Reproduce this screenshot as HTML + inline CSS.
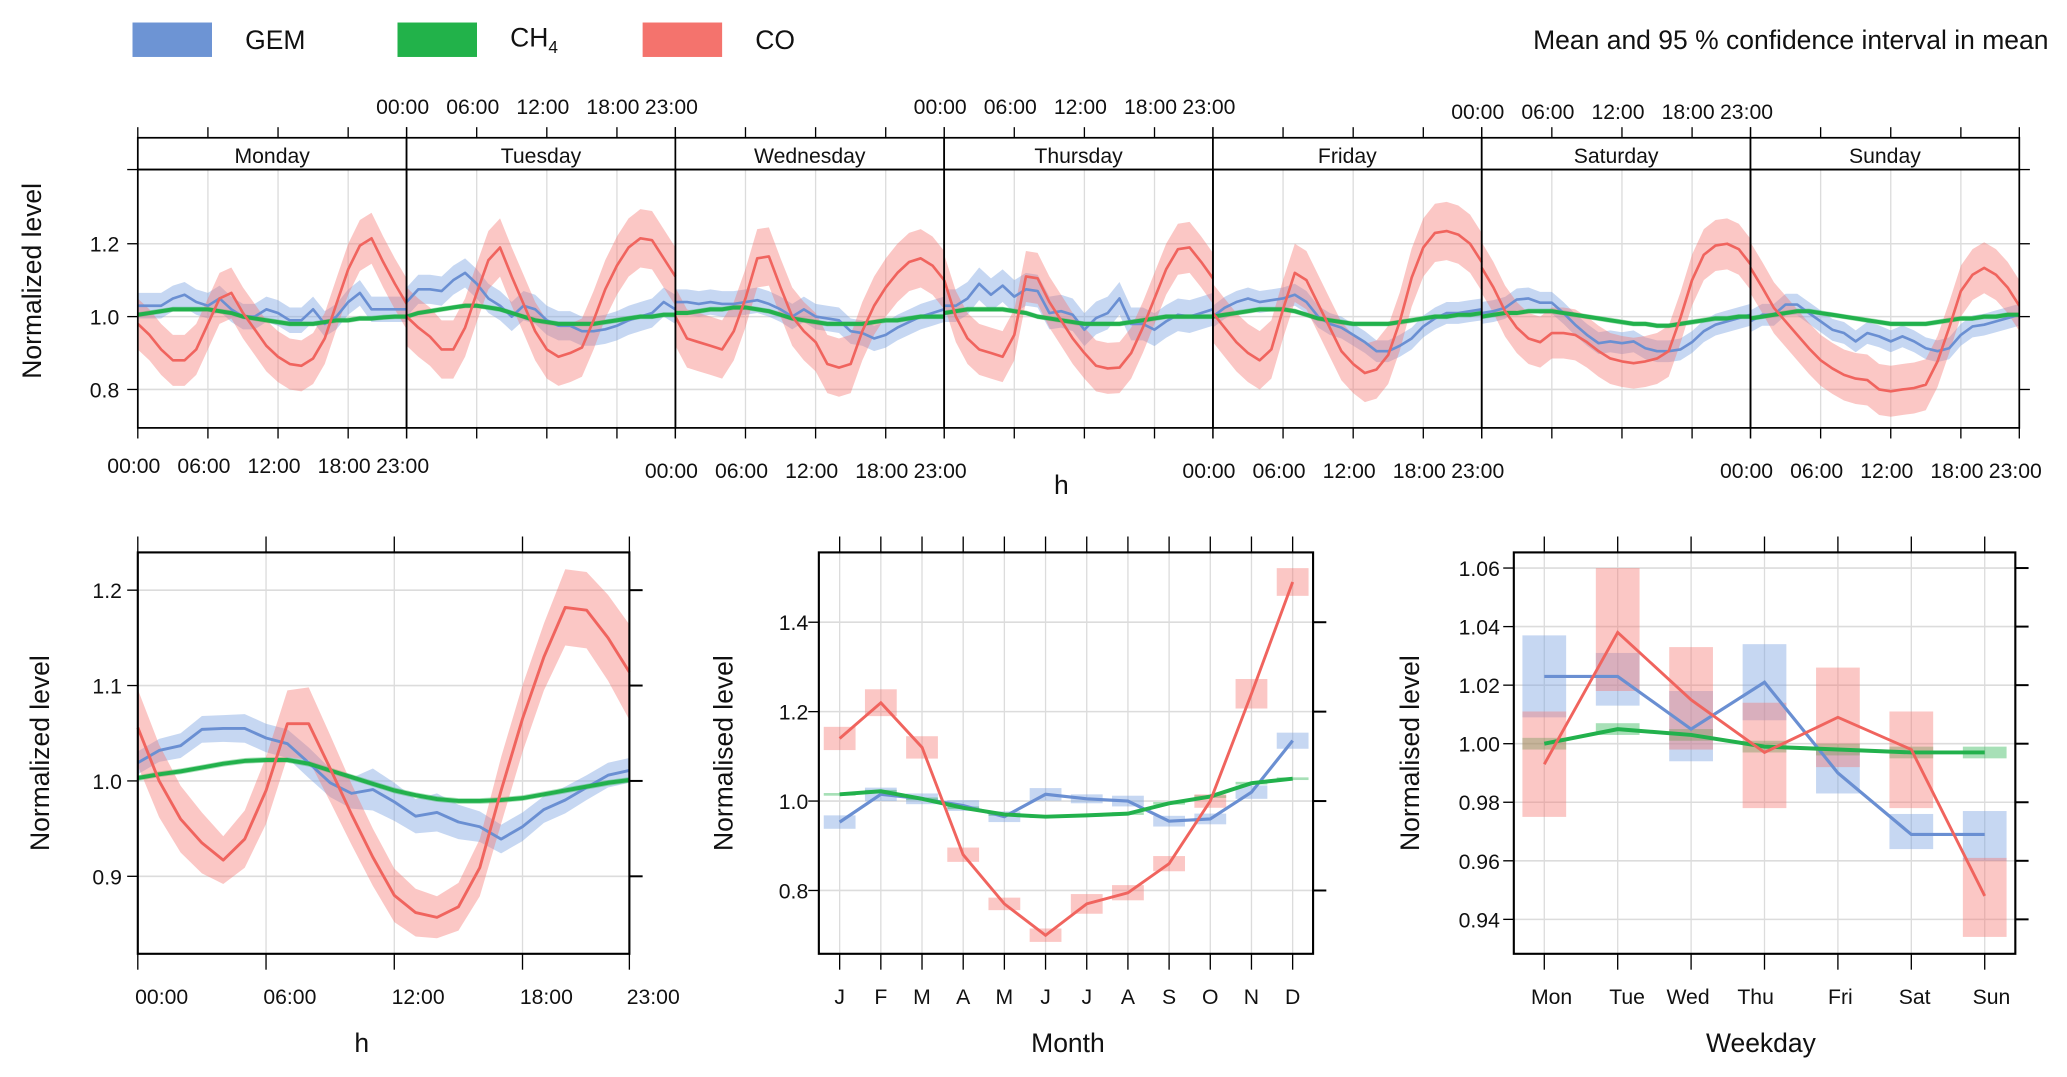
<!DOCTYPE html>
<html><head><meta charset="utf-8"><title>Normalized levels</title>
<style>
html,body{margin:0;padding:0;background:#fff;}
svg{display:block;font-family:"Liberation Sans",sans-serif;}
text{fill:#111;}
</style></head>
<body>
<svg id="chart" width="2067" height="1077" viewBox="0 0 1560 813" preserveAspectRatio="none">
  <g>
    <rect x="100" y="17" width="60" height="26" fill="#6d94d4"/>
    <text x="185" y="37" font-size="20">GEM</text>
    <rect x="300" y="17" width="60" height="26" fill="#22b24a"/>
    <text x="385" y="35" font-size="20">CH<tspan font-size="13" dy="5">4</tspan></text>
    <rect x="485" y="17" width="60" height="26" fill="#f4736d"/>
    <text x="570" y="37" font-size="20">CO</text>
    <text x="1546" y="37" font-size="20" text-anchor="end">Mean and 95 % confidence interval in mean</text>
  </g>
  <g id="topPanel"></g>
  <g id="hour"></g>
  <g id="month"></g>
  <g id="wday"></g>
</svg>
<script>
// ---------- data ----------
const days = ["Monday","Tuesday","Wednesday","Thursday","Friday","Saturday","Sunday"];
const hourTicks = [0,6,12,18,23];
const hourTickLabels = ["00:00","06:00","12:00","18:00","23:00"];
const coDay = [
 [0.98,0.95,0.91,0.88,0.88,0.91,0.98,1.05,1.065,1.01,0.965,0.92,0.89,0.87,0.865,0.885,0.94,1.035,1.13,1.195,1.215,1.15,1.09,1.035],
 [1.0,0.97,0.945,0.91,0.91,0.97,1.065,1.155,1.19,1.11,1.035,0.96,0.91,0.89,0.9,0.915,0.99,1.075,1.14,1.19,1.215,1.21,1.16,1.11],
 [1.0,0.94,0.93,0.92,0.91,0.96,1.05,1.16,1.165,1.08,1.0,0.96,0.93,0.87,0.86,0.87,0.96,1.03,1.08,1.12,1.15,1.16,1.14,1.1],
 [1.1,1.0,0.94,0.91,0.9,0.89,0.95,1.11,1.105,1.04,0.99,0.94,0.9,0.865,0.858,0.86,0.9,0.97,1.05,1.13,1.185,1.19,1.15,1.105],
 [1.01,0.97,0.93,0.9,0.88,0.91,1.02,1.12,1.1,1.035,0.97,0.905,0.87,0.845,0.855,0.895,0.987,1.107,1.19,1.23,1.235,1.225,1.2,1.15],
 [1.134,1.08,1.015,0.97,0.94,0.93,0.955,0.955,0.95,0.93,0.905,0.885,0.877,0.872,0.877,0.885,0.905,0.996,1.1,1.17,1.195,1.2,1.185,1.144],
 [1.134,1.08,1.024,0.987,0.95,0.913,0.88,0.858,0.84,0.83,0.826,0.8,0.795,0.8,0.804,0.813,0.877,0.97,1.07,1.115,1.134,1.115,1.08,1.03]
];
const gemDay = [
 [1.03,1.03,1.03,1.05,1.06,1.04,1.03,1.05,1.02,1.0,1.0,1.02,1.01,0.99,0.99,1.02,0.98,1.0,1.04,1.065,1.02,1.02,1.02,1.02],
 [1.04,1.075,1.075,1.07,1.1,1.12,1.09,1.05,1.03,1.0,1.03,1.02,0.99,0.975,0.975,0.96,0.96,0.965,0.975,0.99,1.0,1.01,1.04,1.02],
 [1.04,1.04,1.035,1.04,1.035,1.035,1.04,1.045,1.035,1.02,1.0,1.02,1.0,0.995,0.99,0.96,0.955,0.94,0.95,0.97,0.985,1.0,1.01,1.02],
 [1.03,1.03,1.05,1.09,1.06,1.085,1.055,1.075,1.07,1.01,1.015,1.005,0.964,0.996,1.01,1.05,0.98,0.98,0.964,0.987,1.005,1.0,1.01,1.02],
 [1.0,1.024,1.04,1.05,1.04,1.045,1.05,1.06,1.04,1.0,0.98,0.97,0.95,0.93,0.905,0.905,0.92,0.94,0.973,0.995,1.01,1.01,1.015,1.02],
 [1.01,1.015,1.024,1.047,1.05,1.038,1.038,1.01,0.978,0.95,0.927,0.932,0.927,0.932,0.913,0.905,0.905,0.91,0.93,0.96,0.978,0.987,0.996,1.005],
 [0.987,1.005,1.005,1.033,1.033,1.01,0.987,0.964,0.955,0.932,0.955,0.946,0.932,0.946,0.932,0.913,0.905,0.913,0.95,0.973,0.978,0.987,0.996,1.005]
];
const ch4Day = [
 [1.005,1.01,1.015,1.02,1.02,1.02,1.02,1.015,1.01,1.0,0.995,0.99,0.985,0.98,0.98,0.98,0.985,0.99,0.99,0.995,0.995,0.998,1.0,1.0],
 [1.0,1.01,1.015,1.02,1.025,1.03,1.03,1.025,1.02,1.01,1.0,0.99,0.985,0.98,0.98,0.98,0.98,0.985,0.99,0.995,1.0,1.0,1.005,1.005],
 [1.01,1.01,1.015,1.02,1.02,1.025,1.025,1.02,1.015,1.005,0.995,0.99,0.985,0.98,0.98,0.98,0.98,0.985,0.99,0.99,0.995,1.0,1.0,1.0],
 [1.01,1.015,1.02,1.02,1.02,1.02,1.015,1.01,1.0,0.995,0.99,0.985,0.98,0.98,0.98,0.98,0.985,0.99,0.995,1.0,1.0,1.0,1.0,1.0],
 [1.0,1.005,1.01,1.015,1.02,1.02,1.02,1.015,1.005,0.995,0.99,0.985,0.98,0.98,0.98,0.98,0.985,0.99,0.995,1.0,1.0,1.005,1.005,1.01],
 [1.0,1.005,1.01,1.01,1.015,1.015,1.015,1.01,1.005,1.0,0.995,0.99,0.985,0.98,0.98,0.975,0.975,0.98,0.985,0.99,0.995,0.995,1.0,1.0],
 [0.995,1.0,1.005,1.01,1.015,1.015,1.01,1.005,1.0,0.995,0.99,0.985,0.98,0.98,0.98,0.98,0.985,0.99,0.995,0.995,1.0,1.0,1.005,1.005]
];
const coDayCI = [0.07,0.08,0.08,0.07,0.08,0.07,0.07];
const gemDayCI = [0.035,0.04,0.035,0.045,0.03,0.03,0.03];
const ch4DayCI = [0.007,0.007,0.007,0.007,0.007,0.007,0.007];
const topYTicks = [0.8,1.0,1.2];
const topYTickLabels = ["0.8","1.0","1.2"];

const coHour = [1.056,1.0,0.96,0.935,0.917,0.939,0.99,1.06,1.06,1.013,0.965,0.92,0.88,0.862,0.857,0.868,0.909,0.99,1.065,1.13,1.182,1.179,1.15,1.114];
const gemHour = [1.019,1.032,1.037,1.054,1.055,1.055,1.045,1.039,1.019,0.998,0.987,0.991,0.978,0.963,0.967,0.957,0.952,0.939,0.952,0.97,0.98,0.993,1.006,1.011];
const ch4Hour = [1.003,1.007,1.01,1.014,1.018,1.021,1.022,1.022,1.018,1.011,1.004,0.997,0.99,0.985,0.981,0.979,0.979,0.98,0.982,0.986,0.99,0.994,0.998,1.001];
const coHourCI = [0.04,0.038,0.035,0.032,0.025,0.03,0.035,0.035,0.038,0.035,0.032,0.03,0.028,0.025,0.022,0.025,0.03,0.035,0.035,0.035,0.04,0.04,0.045,0.05];
const gemHourCI = [0.012,0.012,0.013,0.014,0.014,0.015,0.015,0.015,0.016,0.015,0.016,0.022,0.02,0.018,0.02,0.018,0.016,0.015,0.015,0.014,0.014,0.013,0.013,0.013];
const ch4HourCI = [0.003,0.003,0.003,0.003,0.003,0.003,0.003,0.003,0.003,0.003,0.003,0.003,0.003,0.003,0.003,0.003,0.003,0.003,0.003,0.003,0.003,0.003,0.003,0.003];
const hourYTicks = [0.9,1.0,1.1,1.2];
const hourYTickLabels = ["0.9","1.0","1.1","1.2"];

const months = ["J","F","M","A","M","J","J","A","S","O","N","D"];
const coMonth = [1.14,1.22,1.12,0.88,0.77,0.70,0.77,0.795,0.86,1.0,1.24,1.49];
const gemMonth = [0.953,1.015,1.005,0.99,0.965,1.015,1.005,1.0,0.955,0.96,1.02,1.135];
const ch4Month = [1.015,1.022,1.005,0.985,0.97,0.965,0.968,0.972,0.995,1.01,1.04,1.05];
const coMonthCI = [0.026,0.03,0.025,0.016,0.014,0.015,0.022,0.017,0.017,0.015,0.033,0.031];
const gemMonthCI = [0.015,0.015,0.012,0.012,0.012,0.014,0.01,0.012,0.012,0.012,0.015,0.018];
const ch4MonthCI = [0.003,0.003,0.003,0.003,0.003,0.003,0.003,0.003,0.003,0.003,0.003,0.003];
const monthYTicks = [0.8,1.0,1.2,1.4];
const monthYTickLabels = ["0.8","1.0","1.2","1.4"];

const wdays = ["Mon","Tue","Wed","Thu","Fri","Sat","Sun"];
const coW = [0.993,1.038,1.015,0.997,1.009,0.998,0.948];
const coWLo = [0.975,1.018,0.998,0.978,0.992,0.978,0.934];
const coWHi = [1.011,1.060,1.033,1.014,1.026,1.011,0.961];
const gemW = [1.023,1.023,1.005,1.021,0.99,0.969,0.969];
const gemWLo = [1.009,1.013,0.994,1.008,0.983,0.964,0.96];
const gemWHi = [1.037,1.031,1.018,1.034,0.998,0.976,0.977];
const ch4W = [1.0,1.005,1.003,0.999,0.998,0.997,0.997];
const ch4WLo = [0.998,1.003,1.001,0.997,0.996,0.995,0.995];
const ch4WHi = [1.002,1.007,1.005,1.001,1.0,0.999,0.999];
const wYTicks = [0.94,0.96,0.98,1.00,1.02,1.04,1.06];
const wYTickLabels = ["0.94","0.96","0.98","1.00","1.02","1.04","1.06"];

// ---------- helpers ----------
const NS = "http://www.w3.org/2000/svg";
const COL = {co:"#f0645e", coF:"rgba(244,115,109,0.40)", gem:"#6a8fd2", gemF:"rgba(120,160,225,0.42)", ch4:"#22b14c", ch4F:"rgba(34,177,76,0.40)"};
function mk(tag, attrs, parent){
  const e = document.createElementNS(NS, tag);
  for (const k in attrs) e.setAttribute(k, attrs[k]);
  parent.appendChild(e);
  return e;
}
function txt(parent, x, y, s, size, anchor){
  const t = mk("text", {x:x, y:y, "font-size":size, "text-anchor":anchor||"middle"}, parent);
  t.textContent = s;
  return t;
}
function linePath(xs, ys){ return xs.map((x,i)=>(i?"L":"M")+x.toFixed(1)+","+ys[i].toFixed(1)).join(""); }
function bandPath(xs, lo, hi){
  let d = xs.map((x,i)=>(i?"L":"M")+x.toFixed(1)+","+hi[i].toFixed(1)).join("");
  for (let i=xs.length-1;i>=0;i--) d += "L"+xs[i].toFixed(1)+","+lo[i].toFixed(1);
  return d+"Z";
}

// ---------- top panel ----------
const topG = document.getElementById("topPanel");
const TL=104, TR=1524, PW=(TR-TL)/7, STRIP_T=104, PLOT_T=128, PLOT_B=323;
const xTop = (d,h)=> TL + d*PW + h*PW/23;
const yTop = v => 239 - (v-1)*275;
const defs = mk("defs", {}, topG);
const cp = mk("clipPath", {id:"topclip"}, defs);
mk("rect", {x:TL, y:PLOT_T, width:TR-TL, height:PLOT_B-PLOT_T}, cp);
for (let d=0; d<7; d++){
  for (const h of [6,12,18]){
    const g = mk("line", {x1:xTop(d,h), x2:xTop(d,h), y1:PLOT_T, y2:PLOT_B, stroke:"#dcdcdc", "stroke-width":1}, topG);
    
    
  }
}
topYTicks.forEach((v,i)=>{
  const g = mk("line", {x1:TL, x2:TR, y1:yTop(v), y2:yTop(v), stroke:"#dcdcdc", "stroke-width":1.2}, topG);
  
  
  const t = txt(topG, 90, yTop(v)+6, topYTickLabels[i], 16, "end");
  
  
  const tk = mk("line", {x1:TL-8, x2:TL, y1:yTop(v), y2:yTop(v), stroke:"#000"}, topG);
  
  
  const tk2 = mk("line", {x1:TR, x2:TR+8, y1:yTop(v), y2:yTop(v), stroke:"#000"}, topG);
  
  
});
const tk14 = mk("line", {x1:TL-8, x2:TL, y1:PLOT_T, y2:PLOT_T, stroke:"#000"}, topG);


const tk14r = mk("line", {x1:TR, x2:TR+8, y1:PLOT_T, y2:PLOT_T, stroke:"#000"}, topG);


const series = mk("g", {"clip-path":"url(#topclip)"}, topG);


for (let d=0; d<7; d++){
  const xs = coDay[d].map((_,h)=>xTop(d,h));
  const sets = [
    [gemDay[d], gemDayCI[d], COL.gemF, COL.gem, "gem", 2],
    [ch4Day[d], ch4DayCI[d], COL.ch4F, COL.ch4, "ch4", 3],
    [coDay[d], coDayCI[d], COL.coF, COL.co, "co", 2]
  ];
  for (const [vals, ci, fc, lc, nm, w] of sets){
    const b = mk("path", {d:bandPath(xs, vals.map(v=>yTop(v-ci)), vals.map(v=>yTop(v+ci))), fill:fc, stroke:"none"}, series);
    
    
  }
  for (const [vals, ci, fc, lc, nm, w] of sets){
    const l = mk("path", {d:linePath(xs, vals.map(v=>yTop(v))), fill:"none", stroke:lc, "stroke-width":w, "stroke-linejoin":"round"}, series);
    
    
  }
}
for (let d=0; d<7; d++){
  const x0 = TL + d*PW;
  const s = mk("rect", {x:x0, y:STRIP_T, width:PW, height:PLOT_T-STRIP_T, fill:"#fff", stroke:"#000", "stroke-width":1.3}, topG);
  
  
  const st = txt(topG, x0+PW/2, STRIP_T+19, days[d], 16);
  
  
  const f = mk("rect", {x:x0, y:PLOT_T, width:PW, height:PLOT_B-PLOT_T, fill:"none", stroke:"#000", "stroke-width":1.3}, topG);
  
  
  hourTicks.forEach((h,i)=>{
    const a = mk("line", {x1:xTop(d,h), x2:xTop(d,h), y1:STRIP_T-8, y2:STRIP_T, stroke:"#000"}, topG);
    
    
    const b = mk("line", {x1:xTop(d,h), x2:xTop(d,h), y1:PLOT_B, y2:PLOT_B+8, stroke:"#000"}, topG);
    
    
    if (d%2===1){
      const yy = d===5 ? 90 : 86;
      const t = txt(topG, xTop(d,h)-3, yy, hourTickLabels[i], 16);
      
      
    } else {
      const yy = d===0 ? 357 : 361;
      const t = txt(topG, xTop(d,h)-3, yy, hourTickLabels[i], 16);
      
      
    }
  });
}
const tyt = txt(topG, 0, 0, "Normalized level", 20);
tyt.setAttribute("transform", "translate(31,212) rotate(-90)");


const txtH = txt(topG, 801, 373, "h", 20);



// ---------- generic small panel ----------
function framePanel(g, L, R, T, B, yTicks, yLabels, yFn, xTicks, xLabelXs, xLabels, title, titleX, ytitle, ytitleX, labelX, prefix){
  xTicks.forEach(x=>{
    const gl = mk("line", {x1:x, x2:x, y1:T, y2:B, stroke:"#dcdcdc"}, g);
    
    
  });
  yTicks.forEach((v,i)=>{
    const y = yFn(v);
    const gl = mk("line", {x1:L, x2:R, y1:y, y2:y, stroke:"#dcdcdc", "stroke-width":1.2}, g);
    
    
    const a = mk("line", {x1:L-8, x2:L, y1:y, y2:y, stroke:"#000"}, g);
    
    
    const b = mk("line", {x1:R, x2:R+10, y1:y, y2:y, stroke:"#000", "stroke-width":1.5}, g);
    
    
    const t = txt(g, labelX, y+6, yLabels[i], 16, "end");
    
    
  });
  xTicks.forEach((x,i)=>{
    const a = mk("line", {x1:x, x2:x, y1:T-12, y2:T, stroke:"#000"}, g);
    
    
    const b = mk("line", {x1:x, x2:x, y1:B, y2:B+12, stroke:"#000"}, g);
    
    
    const t = txt(g, xLabelXs[i], 758, xLabels[i], 16);
    
    
  });
  const xt = txt(g, titleX, 794, title, 20);
  
  
  const yt = txt(g, 0, 0, ytitle, 20);
  yt.setAttribute("transform", "translate("+ytitleX+","+((T+B)/2)+") rotate(-90)");
  
  
}
function frameRect(g, L, R, T, B, prefix){
  const f = mk("rect", {x:L, y:T, width:R-L, height:B-T, fill:"none", stroke:"#000", "stroke-width":1.6}, g);
  
  
}

// ---------- hour panel ----------
const hg = document.getElementById("hour");
const HL=104, HR=475, BT=417, BB=720;
const xH = h => HL + h*(HR-HL)/23;
const yH = v => 589.5 - (v-1)*720;
framePanel(hg, HL, HR, BT, BB, hourYTicks, hourYTickLabels, yH, hourTicks.map(xH), hourTicks.map(h=>xH(h)+18), hourTickLabels, "h", 273, "Normalized level", 37, 92, "hour");
{
  const xs = coHour.map((_,h)=>xH(h));
  const sets = [[gemHour, gemHourCI, COL.gemF, COL.gem, "gem", 2.2],[ch4Hour, ch4HourCI, COL.ch4F, COL.ch4, "ch4", 3],[coHour, coHourCI, COL.coF, COL.co, "co", 2.2]];
  for (const [vals, ci, fc, lc, nm] of sets){
    const b = mk("path", {d:bandPath(xs, vals.map((v,i)=>yH(v-ci[i])), vals.map((v,i)=>yH(v+ci[i]))), fill:fc}, hg);
    
    
  }
  for (const [vals, ci, fc, lc, nm, w] of sets){
    const l = mk("path", {d:linePath(xs, vals.map(yH)), fill:"none", stroke:lc, "stroke-width":w, "stroke-linejoin":"round"}, hg);
    
    
  }
}
frameRect(hg, HL, HR, BT, BB, "hour");

// ---------- month panel ----------
const mg = document.getElementById("month");
const ML=618, MR=991;
const xM = i => 633.7 + i*31.08;
const yM = v => 604.7 - (v-1)*337.5;
framePanel(mg, ML, MR, BT, BB, monthYTicks, monthYTickLabels, yM, months.map((_,i)=>xM(i)), months.map((_,i)=>xM(i)), months, "Month", 806, "Normalised level", 553, 610, "month");
{
  const sets = [[gemMonth, gemMonthCI, COL.gemF, COL.gem, "gem", 2.4],[ch4Month, ch4MonthCI, COL.ch4F, COL.ch4, "ch4", 3],[coMonth, coMonthCI, COL.coF, COL.co, "co", 2.2]];
  for (const [vals, ci, fc, lc, nm] of sets){
    vals.forEach((v,i)=>{
      const r = mk("rect", {x:xM(i)-12, y:yM(v+ci[i]), width:24, height:yM(v-ci[i])-yM(v+ci[i]), fill:fc}, mg);
      
      
    });
  }
  for (const [vals, ci, fc, lc, nm, w] of sets){
    const l = mk("path", {d:linePath(vals.map((_,i)=>xM(i)), vals.map(yM)), fill:"none", stroke:lc, "stroke-width":w}, mg);
    
    
  }
}
frameRect(mg, ML, MR, BT, BB, "month");

// ---------- weekday panel ----------
const wg = document.getElementById("wday");
const WL=1142.5, WR=1521;
const xW = i => 1165.5 + i*55.4;
const yW = v => 561.4 - (v-1)*2210;
framePanel(wg, WL, WR, BT, BB, wYTicks, wYTickLabels, yW, wdays.map((_,i)=>xW(i)), [1171,1228,1274,1325,1389,1445,1503], wdays, "Weekday", 1329, "Normalised level", 1071, 1132, "weekday");
{
  const sets = [[gemW, gemWLo, gemWHi, COL.gemF, COL.gem, "gem", 2.4],[ch4W, ch4WLo, ch4WHi, COL.ch4F, COL.ch4, "ch4", 3],[coW, coWLo, coWHi, COL.coF, COL.co, "co", 2.2]];
  for (const [vals, lo, hi, fc, lc, nm] of sets){
    vals.forEach((v,i)=>{
      const r = mk("rect", {x:xW(i)-16.5, y:yW(hi[i]), width:33, height:yW(lo[i])-yW(hi[i]), fill:fc}, wg);
      
      
    });
  }
  for (const [vals, lo, hi, fc, lc, nm, w] of sets){
    const l = mk("path", {d:linePath(vals.map((_,i)=>xW(i)), vals.map(yW)), fill:"none", stroke:lc, "stroke-width":w}, wg);
    
    
  }
}
frameRect(wg, WL, WR, BT, BB, "weekday");
</script>
</body></html>
